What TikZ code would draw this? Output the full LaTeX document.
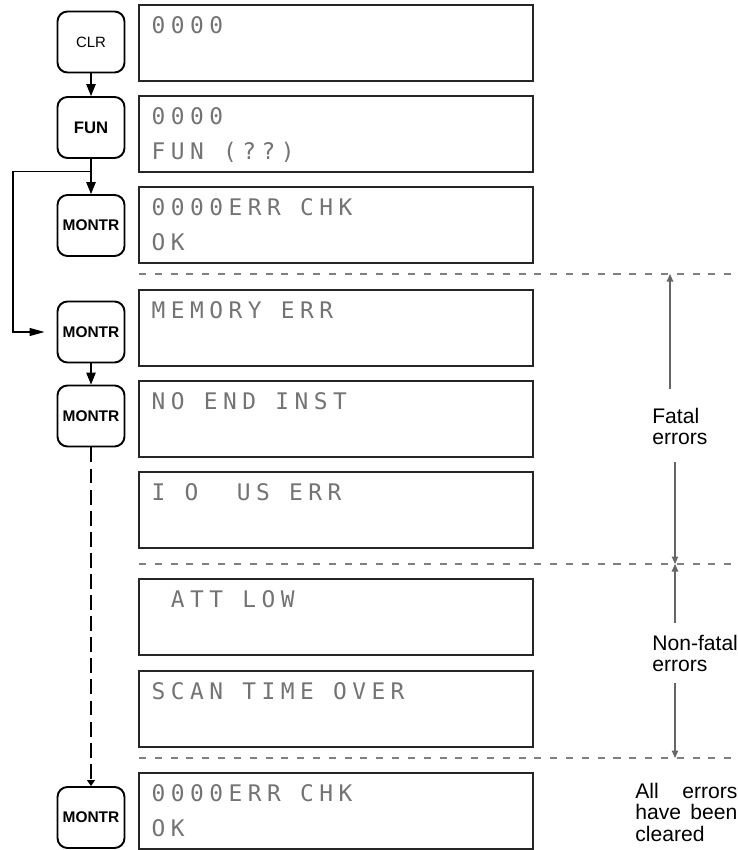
\documentclass[tikz,border=0pt]{standalone}
\usepackage{fontspec}
\setmainfont{Liberation Sans}
\newfontfamily\lcdfont[LetterSpace=24]{DejaVu Sans Mono}
\usetikzlibrary{arrows.meta}

\begin{document}
\begin{tikzpicture}[key/.style={draw,line width=1.1pt,rounded corners=0.2cm,minimum width=1.34cm,minimum height=1.22cm,inner sep=0pt,font=\bfseries\fontsize{8.8}{10}\selectfont},lcd/.style={draw=black!85,line width=0.8pt,minimum width=7.88cm,minimum height=1.52cm,inner sep=0pt},dot/.style={anchor=base west,inner sep=0pt,text=black!55,font=\lcdfont\fontsize{13}{14}\selectfont},a/.style={-{Triangle[length=2.4mm,width=1.9mm]},line width=0.6pt},sep/.style={draw=black!50,line width=0.6pt,dash pattern=on 4pt off 5pt},dim/.style={-{Triangle[length=1.5mm,width=1.3mm]},draw=black!60,line width=0.6pt},lbl/.style={anchor=base west,inner sep=0pt,text width=2cm,align=left,font=\fontsize{12}{12.5}\selectfont}]
\useasboundingbox (0,0) rectangle (14.74,-17);
\node[key,font=\fontsize{8.5}{10}\selectfont] (clr) at (1.82,-0.84) {CLR};
\node[key,font=\bfseries\fontsize{9.5}{10}\selectfont] (fun) at (1.82,-2.55) {FUN};
\node[key] (m1) at (1.82,-4.51) {MONTR};
\node[key] (m2) at (1.82,-6.64) {MONTR};
\node[key] (m3) at (1.82,-8.32) {MONTR};
\node[key] (m4) at (1.82,-16.35) {MONTR};
\foreach \y/\la/\lb [count=\i] in {0.86/0000/{},2.68/0000/FUN (??),4.5/0000ERR CHK/OK,6.56/MEMORY ERR/{},8.38/NO END INST/{},10.2/I~O~~US ERR/{},12.34/~ATT LOW/{},14.18/SCAN TIME OVER/{},16.22/0000ERR CHK/OK}{
\node[lcd] (d\i) at (6.72,-\y) {};
\node[dot] (d\i-1) at ([shift={(0.26,-0.58)}]d\i.north west) {\la};
\node[dot] (d\i-2) at ([shift={(0.26,-1.28)}]d\i.north west) {\lb};
}
\foreach \y [count=\i] in {5.48,11.28,15.16} \draw[sep] (2.78,-\y) coordinate (s\i) -- (14.74,-\y);
\draw[a] (clr) -- (fun);
\draw[a] (fun) -- (m1);
\draw[a] (m2) -- (m3);
\draw[line width=0.6pt,dash pattern=on 8.5pt off 3.5pt,-{Triangle[length=1.2mm,width=1.6mm]}] (m3) -- (m4);
\coordinate (lp) at (1.82,-3.43);
\coordinate (lc) at (0.26,-3.43);
\draw[line width=0.6pt,-{Triangle[length=3mm,width=1.6mm]},shorten >=0.24cm] (lp) -- (lc) |- (m2);
\node[lbl] (fat) at (13.04,-8.46) {Fatal\\errors};
\node[lbl] (nfat) at (13.04,-13.0) {Non-fatal\\errors};
\node[lbl,text width=2.04cm] (done) at (12.7,-15.96) {\makebox[2.04cm][l]{All\hfill errors}\\\makebox[2.04cm][l]{have\hfill been}\\cleared};
\coordinate (f1) at (13.4,-7.78);
\coordinate (f2) at (13.5,-9.24);
\coordinate (n1) at (13.5,-12.46);
\coordinate (n2) at (13.5,-13.66);
\draw[dim] (f1) -- (f1 |- s1);
\draw[dim] (f2) -- (f2 |- s2);
\draw[dim] (n1) -- (n1 |- s2);
\draw[dim] (n2) -- (n2 |- s3);
\end{tikzpicture}
\end{document}
